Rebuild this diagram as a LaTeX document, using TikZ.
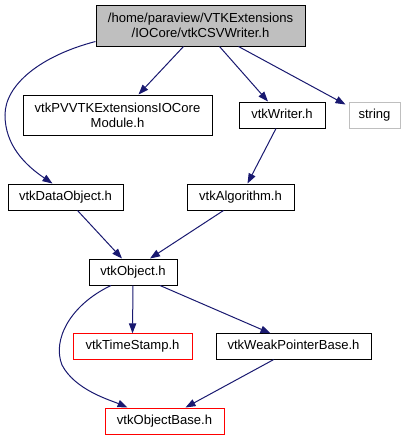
\documentclass[tikz,border=0pt]{standalone}
\usepackage{fontspec}
\setmainfont{Liberation Sans}
\usetikzlibrary{arrows.meta,calc}
\definecolor{edgeblue}{RGB}{25,25,112}
\definecolor{topgray}{RGB}{191,191,191}
\definecolor{lightbd}{RGB}{191,191,191}
\definecolor{redbd}{RGB}{255,0,0}
\begin{document}
\begin{tikzpicture}[x=0.75pt,y=-0.75pt,
  box/.style={draw=black,line width=0.75pt,inner sep=0pt,align=center,
    font=\fontsize{9.8}{12}\selectfont,text height=7.2pt,text depth=2pt},
  redbox/.style={box,draw=redbd},
  graybox/.style={box,draw=lightbd},
  edge/.style={draw=edgeblue,line width=0.75pt,-{Triangle[length=7.5pt,width=5.5pt]}}
]
\useasboundingbox (0,0) rectangle (410,440);
\node[box,fill=topgray,minimum width=156.75pt,minimum height=30.75pt,text height=,text depth=,
  font=\fontsize{9.8}{11.5}\selectfont] (top) at (200.5,25.5)
  {/home/paraview/VTKExtensions\\/IOCore/vtkCSVWriter.h};
\node[box,minimum width=141.75pt,minimum height=30pt,text height=,text depth=,
  font=\fontsize{9.8}{11.5}\selectfont] (pv) at (117.5,115)
  {vtkPVVTKExtensionsIOCore\\Module.h};
\node[box,minimum width=64.5pt,minimum height=19.5pt] (writer) at (282,115) {vtkWriter.h};
\node[graybox,minimum width=38.25pt,minimum height=19.5pt] (string) at (374.5,115) {string};
\node[box,minimum width=86.25pt,minimum height=19.5pt] (dobj) at (65.5,197) {vtkDataObject.h};
\node[box,minimum width=80.25pt,minimum height=19.5pt] (algo) at (240.5,197) {vtkAlgorithm.h};
\node[box,minimum width=66pt,minimum height=19.5pt] (obj) at (133,272) {vtkObject.h};
\node[redbox,minimum width=89.25pt,minimum height=19pt] (ts) at (132.5,346.5) {vtkTimeStamp.h};
\node[box,minimum width=116.25pt,minimum height=19pt] (weak) at (293.5,346.5) {vtkWeakPointerBase.h};
\node[redbox,minimum width=89.25pt,minimum height=19.5pt] (base) at (164.5,421) {vtkObjectBase.h};

\draw[edge] ($(top.south west)+(0,-5)$) .. controls (40,56) and (5,85) .. (5,115)
  .. controls (5,145) and (25,165) .. ($(dobj.north)+(-13,0)$);
\draw[edge] ($(top.south)+(-17,0)$) -- ($(pv.north)+(21,0)$);
\draw[edge] ($(top.south)+(19,0)$) -- ($(writer.north)+(-14,0)$);
\draw[edge] ($(top.south)+(38,0)$) -- ($(string.north west)+(-3,3)$);
\draw[edge] ($(writer.south)+(-6,0)$) -- ($(algo.north)+(7,0)$);
\draw[edge] ($(dobj.south)+(12,0)$) -- ($(obj.north)+(-11,0)$);
\draw[edge] ($(algo.south)+(-17,0)$) -- ($(obj.north)+(17,0)$);
\draw[edge] (obj.south) -- (ts.north);
\draw[edge] ($(obj.south)+(27,0)$) -- ($(weak.north)+(-23,0)$);
\draw[edge] ($(obj.south)+(-22,0)$) .. controls (70,305) and (52,340) .. (62,365)
  .. controls (75,390) and (110,400) .. ($(base.north)+(-37,0)$);
\draw[edge] ($(weak.south)+(-20,0)$) -- ($(base.north)+(21,0)$);
\end{tikzpicture}
\end{document}
